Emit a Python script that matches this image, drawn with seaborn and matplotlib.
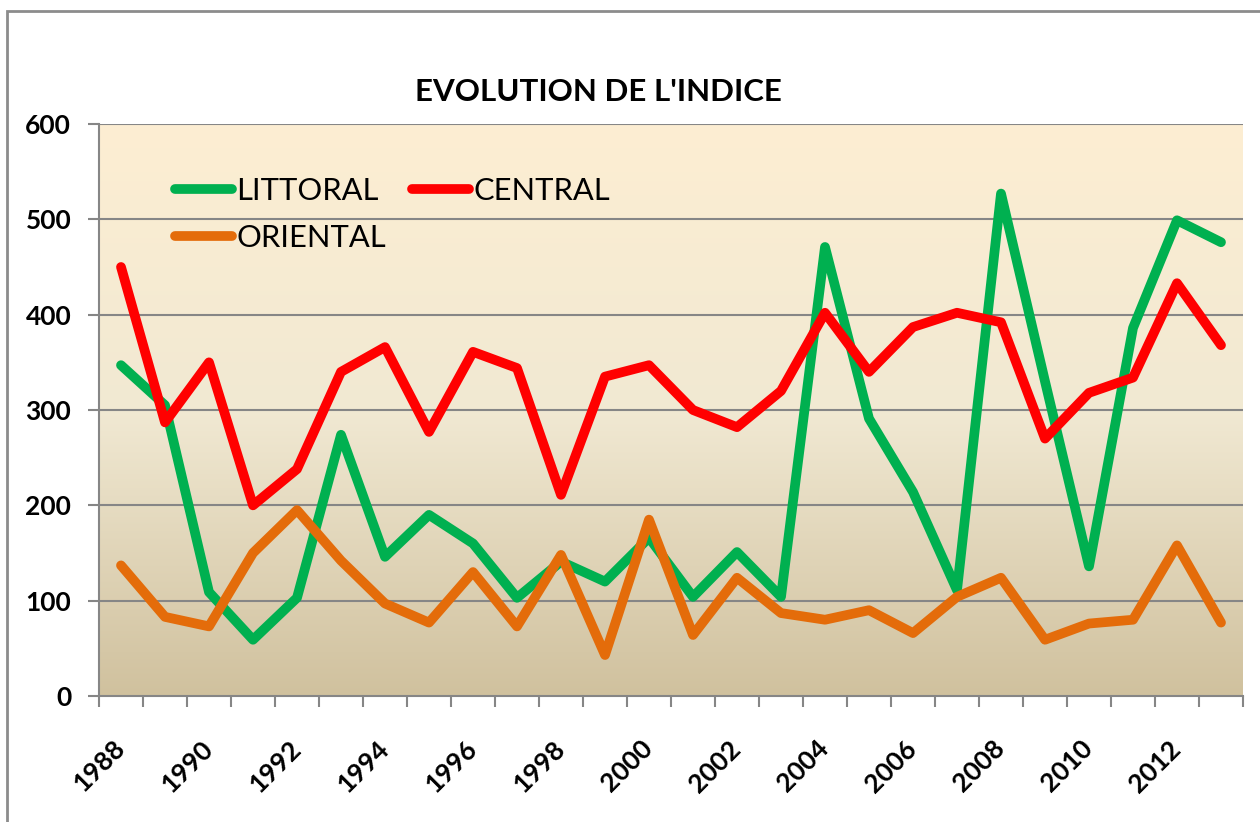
import matplotlib
matplotlib.use('Agg')
import matplotlib.pyplot as plt
import numpy as np
import pandas as pd
import seaborn as sns
from matplotlib.colors import LinearSegmentedColormap
from matplotlib.lines import Line2D
from matplotlib.patches import Rectangle

years = list(range(1988, 2014))
littoral = [347, 305, 109, 59, 103, 274, 146, 190, 160, 103,
            141, 120, 166, 104, 151, 104, 471, 291, 214, 111,
            527, 330, 136, 386, 499, 476]
central = [450, 287, 350, 200, 238, 340, 366, 277, 361, 344,
           211, 335, 347, 300, 282, 320, 402, 340, 387, 402,
           392, 270, 318, 334, 433, 368]
oriental = [137, 83, 73, 150, 195, 142, 97, 77, 130, 73,
            148, 43, 185, 64, 124, 87, 80, 90, 66, 104,
            124, 59, 76, 80, 158, 77]
series = ['LITTORAL', 'CENTRAL', 'ORIENTAL']
colors = {'LITTORAL': '#00B050', 'CENTRAL': '#FF0000', 'ORIENTAL': '#E46C0A'}
yticks = [0, 100, 200, 300, 400, 500, 600]
xlabels = list(range(1988, 2013, 2))

df = pd.DataFrame({'year': years, 'LITTORAL': littoral,
                   'CENTRAL': central, 'ORIENTAL': oriental})
df_long = df.melt(id_vars='year', var_name='zone', value_name='indice')

sns.set_style('white')
plt.rcParams['font.family'] = ['Lato', 'DejaVu Sans']
plt.rcParams['text.color'] = 'black'
plt.rcParams['xtick.labelcolor'] = 'black'
plt.rcParams['ytick.labelcolor'] = 'black'

fig = plt.figure(figsize=(12.6, 8.22), dpi=100)
ax = fig.add_axes([99 / 1260, 1 - 696 / 822, 1144 / 1260, 572 / 822])

# outer chart frame (extends past the right/bottom edges)
fig.patches.append(Rectangle((7 / 1260, -0.1), 1.2, 1.1 - 11 / 822,
                             transform=fig.transFigure, fill=False,
                             edgecolor='#8C8C8C', lw=2, zorder=0))

# plot area gradient
grad = LinearSegmentedColormap.from_list(
    'bg', [(0, '#D0C19E'), (0.5, '#F1E9D3'), (1, '#FDEED2')])
ax.imshow(np.linspace(0, 1, 256).reshape(-1, 1), cmap=grad, aspect='auto',
          extent=[0, 1, 0, 1], transform=ax.transAxes, origin='lower',
          zorder=0)

for y in yticks[1:]:
    ax.axhline(y, color='#868686', lw=1.5, zorder=1)

sns.lineplot(data=df_long, x='year', y='indice', hue='zone',
             hue_order=series, palette=colors, lw=7, legend=False, ax=ax,
             zorder=3)
for ln in ax.lines[-3:]:
    ln.set_solid_capstyle('round')
    ln.set_solid_joinstyle('round')

ax.set_xlim(years[0] - 0.5, years[-1] + 0.5)
ax.set_ylim(0, 600)
ax.set_xlabel('')
ax.set_ylabel('')

ax.set_yticks(yticks)
ax.set_xticks(xlabels)
ax.set_xticks([y - 0.5 for y in years] + [years[-1] + 0.5], minor=True)
ax.tick_params(axis='y', which='major', length=8, width=1.5,
               color='#868686', labelcolor='black', pad=12, labelsize=19,
               left=True)
ax.tick_params(axis='x', which='major', length=0, pad=35, labelsize=19,
               labelcolor='black')
ax.tick_params(axis='x', which='minor', length=8, width=1.5,
               color='#868686', bottom=True)
for lab in ax.get_yticklabels():
    lab.set_fontweight('bold')
for lab in ax.get_xticklabels():
    lab.set_fontweight('bold')
    lab.set_rotation(45)
    lab.set_ha('right')
    lab.set_va('center')
    lab.set_rotation_mode('anchor')

for side in ['top', 'right']:
    ax.spines[side].set_visible(False)
for side in ['left', 'bottom']:
    ax.spines[side].set_color('#868686')
    ax.spines[side].set_linewidth(1.5)
    ax.spines[side].set_zorder(2)

handles = [Line2D([], [], color=colors[s], lw=7, solid_capstyle='round')
           for s in ['LITTORAL', 'ORIENTAL', 'CENTRAL']]
ax.legend(handles, ['LITTORAL', 'ORIENTAL', 'CENTRAL'], ncol=2,
          loc='upper left', bbox_to_anchor=(0.066, 0.908), frameon=False,
          fontsize=22.2, handlelength=1.85, handletextpad=0.15,
          columnspacing=0.85, labelspacing=0.62, borderpad=0,
          borderaxespad=0, labelcolor='black')

fig.text(598 / 1260, 1 - 92 / 822, "EVOLUTION DE L'INDICE", ha='center',
         va='center', fontsize=22.5, fontweight='bold', color='black')

fig.savefig('out.png', dpi=100)
